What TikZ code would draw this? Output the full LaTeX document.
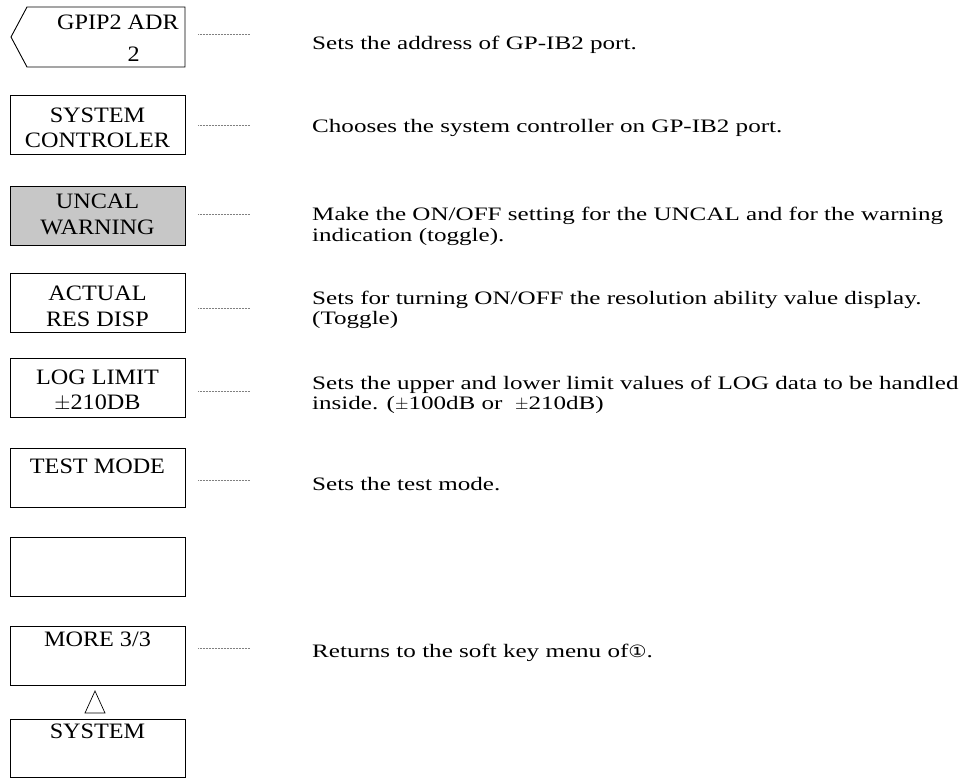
\documentclass[tikz,border=0pt]{standalone}
\usepackage{fontspec}
\setmainfont[FakeStretch=1.32]{Liberation Serif}
\newfontfamily\keyfont[FakeStretch=1.1]{Liberation Serif}
\newfontfamily\symfont[FakeStretch=1.2]{DejaVu Sans}
\begin{document}
\begin{tikzpicture}[x=1pt,y=-1pt,
  keybox/.style={draw=black, line width=0.9pt, minimum width=175pt, minimum height=59pt, inner sep=0pt, anchor=north west},
  keytxt/.style={font=\keyfont\fontsize{22}{25}\selectfont, anchor=base, inner sep=0pt},
  desc/.style={font=\fontsize{19}{20}\selectfont, anchor=base west, inner sep=0pt},
  lead/.style={draw=black!50, densely dotted, line width=0.5pt}]
\useasboundingbox (0,0) rectangle (969,778);

% key 1 (pentagon)
\coordinate (k1tl) at (27,7);
\coordinate (k1tr) at (185,7);
\coordinate (k1br) at (185,67);
\coordinate (k1bl) at (27,67);
\coordinate (k1tip) at (11,37);
\draw[line width=0.9pt] (k1tl) -- (k1tr) -- (k1br) -- (k1bl) -- (k1tip) -- cycle;
\node[keytxt, anchor=base east] (t1a) at (179,30) {GPIP2 ADR};
\node[keytxt, anchor=base east] (t1b) at (140,62) {2};

% key 2
\node[keybox] (k2) at (10,95) {};
\node[keytxt] (t2a) at (97.5,123) {SYSTEM};
\node[keytxt] (t2b) at (97.5,148) {CONTROLER};

% key 3 (shaded)
\node[keybox, fill=black!22] (k3) at (10,186) {};
\node[keytxt] (t3a) at (97.5,209) {UNCAL};
\node[keytxt] (t3b) at (97.5,235) {WARNING};

% key 4
\node[keybox] (k4) at (10,273) {};
\node[keytxt] (t4a) at (97.5,300) {ACTUAL};
\node[keytxt] (t4b) at (97.5,326) {RES DISP};

% key 5
\node[keybox] (k5) at (10,358) {};
\node[keytxt] (t5a) at (97.5,384) {LOG LIMIT};
\node[keytxt] (t5b) at (97.5,409) {$\pm$210DB};

% key 6
\node[keybox] (k6) at (10,448) {};
\node[keytxt] (t6a) at (97.5,473) {TEST MODE};

% key 7
\node[keybox] (k7) at (10,537) {};

% key 8
\node[keybox] (k8) at (10,626) {};
\node[keytxt] (t8a) at (97.5,646) {MORE 3/3};

% triangle
\coordinate (tra) at (95,691);
\coordinate (trb) at (105,713);
\coordinate (trc) at (85,713);
\draw[line width=0.7pt] (tra) -- (trb) -- (trc) -- cycle;

% key 9
\node[keybox, minimum height=58pt] (k9) at (10,719) {};
\node[keytxt] (t9a) at (97.5,738) {SYSTEM};

% leader lines
\foreach \i/\y in {1/34,2/125,3/214,4/308,5/391,6/480,8/648}{
  \coordinate (la\i) at (198,\y);
  \coordinate (lb\i) at (250,\y);
  \draw[lead] (la\i) -- (lb\i);
}

% descriptions
\node[desc] (d1) at (312,50) {Sets the address of GP-IB2 port.};
\node[desc] (d2) at (312,133) {Chooses the system controller on GP-IB2 port.};
\node[desc] (d3a) at (312,221) {Make the ON/OFF setting for the UNCAL and for the warning};
\node[desc] (d3b) at (312,241) {indication (toggle).};
\node[desc] (d4a) at (312,304) {Sets for turning ON/OFF the resolution ability value display.};
\node[desc] (d4b) at (312,324) {(Toggle)};
\node[desc] (d5a) at (312,389) {Sets the upper and lower limit values of LOG data to be handled};
\node[desc] (d5b) at (312,409) {inside. ($\pm$100dB or \ $\pm$210dB)};
\node[desc] (d6) at (312,490) {Sets the test mode.};
\node[desc] (d8) at (312,657) {Returns to the soft key menu of{\symfont\fontsize{17}{20}\selectfont ①}.};
\end{tikzpicture}
\end{document}
